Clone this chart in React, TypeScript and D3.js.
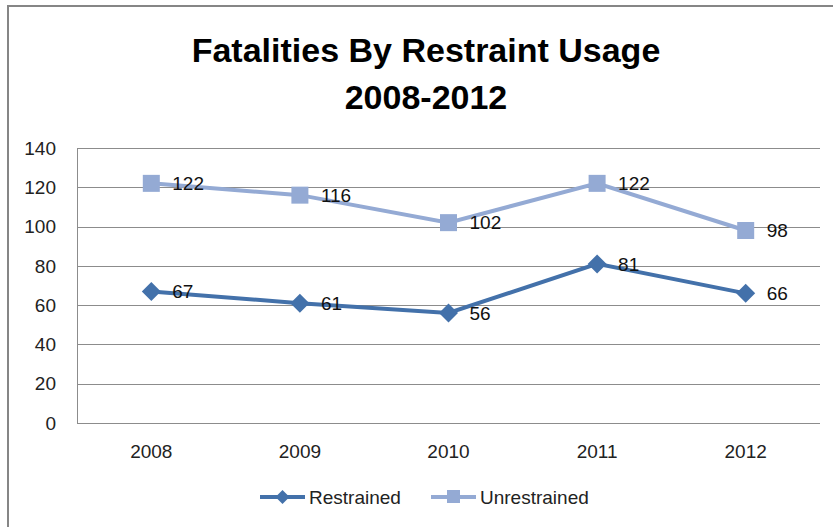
import React from "react";
import * as d3 from "d3";

const years = ["2008", "2009", "2010", "2011", "2012"];
const restrained = [67, 61, 56, 81, 66];
const unrestrained = [122, 116, 102, 122, 98];
const yTicks = [0, 20, 40, 60, 80, 100, 120, 140];
const titleLines = ["Fatalities By Restraint Usage", "2008-2012"];
const seriesNames = ["Restrained", "Unrestrained"];

const W = 833;
const H = 527;
const FONT = "'Liberation Sans', Arial, sans-serif";
const C_RES = "#4371AA";
const C_UNR = "#94AAD4";
const GRID = "#8c8c8c";
const FS = 19;

export default function App() {
  const left = 77, right = 820, top = 148, bottom = 423;
  const x = d3.scaleBand<string>().domain(years).range([left, right]);
  const y = d3.scaleLinear().domain([0, 140]).range([bottom, top]);
  const cx = (d: string) => (x(d) as number) + x.bandwidth() / 2;
  const line = d3.line<number>().x((_, i) => cx(years[i])).y((v) => y(v));

  const diamond = (px: number, py: number, r: number) =>
    `M${px},${py - r}L${px + r},${py}L${px},${py + r}L${px - r},${py}Z`;

  return (
    <svg width={W} height={H} style={{ position: "absolute", left: 0, top: 0 }} fontFamily={FONT}>
      <rect x={0} y={0} width={W} height={H} fill="#fff" />
      <path d={`M8,${H}V6H${W}`} fill="none" stroke="#868686" strokeWidth={2} />
      {titleLines.map((t, i) => (
        <text key={t} x={426} y={i === 0 ? 62 : 109} textAnchor="middle" fontSize={34} fontWeight="bold" fill="#000">
          {t}
        </text>
      ))}
      {yTicks.map((t) => (
        <g key={t}>
          <line x1={left} x2={right} y1={Math.round(y(t)) + 0.5} y2={Math.round(y(t)) + 0.5} stroke={GRID} strokeWidth={1} />
          <text x={56} y={y(t)} dy="0.35em" textAnchor="end" fontSize={FS} fill="#222">
            {t}
          </text>
        </g>
      ))}
      <line x1={left + 0.5} x2={left + 0.5} y1={top} y2={bottom} stroke={GRID} strokeWidth={1} />
      {years.map((yr) => (
        <text key={yr} x={cx(yr)} y={458} textAnchor="middle" fontSize={FS} fill="#222">
          {yr}
        </text>
      ))}
      <path d={line(unrestrained) || ""} fill="none" stroke={C_UNR} strokeWidth={4} />
      <path d={line(restrained) || ""} fill="none" stroke={C_RES} strokeWidth={4} />
      {unrestrained.map((v, i) => (
        <g key={"u" + i}>
          <rect x={cx(years[i]) - 8.5} y={y(v) - 8.5} width={17} height={17} fill={C_UNR} />
          <text x={cx(years[i]) + 21} y={y(v)} dy="0.35em" fontSize={FS} fill="#111">
            {v}
          </text>
        </g>
      ))}
      {restrained.map((v, i) => (
        <g key={"r" + i}>
          <path d={diamond(cx(years[i]), y(v), 9.5)} fill={C_RES} />
          <text x={cx(years[i]) + 21} y={y(v)} dy="0.35em" fontSize={FS} fill="#111">
            {v}
          </text>
        </g>
      ))}
      <g>
        <line x1={260} x2={305} y1={497} y2={497} stroke={C_RES} strokeWidth={4} />
        <path d={diamond(282.5, 497, 7)} fill={C_RES} />
        <text x={309} y={497} dy="0.35em" fontSize={FS} fill="#222">{seriesNames[0]}</text>
        <line x1={431} x2={476} y1={497} y2={497} stroke={C_UNR} strokeWidth={4} />
        <rect x={447} y={490} width={13} height={13} fill={C_UNR} />
        <text x={480} y={497} dy="0.35em" fontSize={FS} fill="#222">{seriesNames[1]}</text>
      </g>
    </svg>
  );
}
